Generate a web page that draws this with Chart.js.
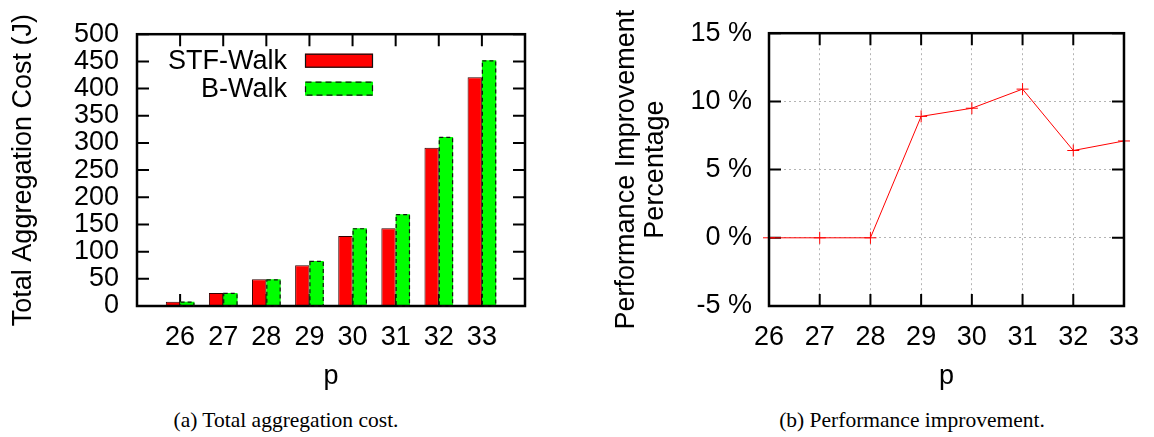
<!DOCTYPE html>
<html>
<head>
<meta charset="utf-8">
<script src="https://cdn.jsdelivr.net/npm/chart.js@4.4.0/dist/chart.umd.min.js"></script>
<style>
  html, body { margin: 0; padding: 0; background: #fff; }
  body { width: 1154px; height: 437px; position: relative; overflow: hidden; }
  #wrapA { position: absolute; left: 0; top: 0; width: 560px; height: 400px; }
  #wrapB { position: absolute; left: 580px; top: 0; width: 574px; height: 400px; }
  .caption { position: absolute; top: 410px; width: 400px; font-family: 'Liberation Serif', 'Times New Roman', serif;
    font-size: 21.5px; line-height: 20px; text-align: center; color: #000; white-space: nowrap; }
</style>
</head>
<body>
<div id="wrapA"><canvas id="costChart" width="560" height="400"></canvas></div>
<div id="wrapB"><canvas id="gainChart" width="574" height="400"></canvas></div>
<div class="caption" style="left:86px;">(a) Total aggregation cost.</div>
<div class="caption" style="left:712px;">(b) Performance improvement.</div>

<script>
// data
var pValues = ['26', '27', '28', '29', '30', '31', '32', '33'];
var stfWalk = [8, 24, 49, 75, 129, 143, 291, 421];
var bWalk = [8, 24, 49, 83, 143, 169, 311, 452];
var gainPct = [0, 0, 0, 8.9, 9.5, 10.9, 6.4, 7.1];

var FONT = "'Liberation Sans', Arial, sans-serif";
Chart.defaults.font.family = FONT;
Chart.defaults.color = '#000';

// inward gnuplot-style ticks (behind marks) and the box (on top)
var frameTicks = {
  id: 'frameTicks',
  beforeDatasetsDraw: function (chart) {
    var ctx = chart.ctx, a = chart.chartArea, xs = chart.scales.x, ys = chart.scales.y, len = 12;
    ctx.save();
    ctx.strokeStyle = '#000';
    ctx.lineWidth = 2;
    ctx.beginPath();
    xs.ticks.forEach(function (t, i) {
      if (t.label === '') return;
      var px = xs.getPixelForTick(i);
      ctx.moveTo(px, a.bottom); ctx.lineTo(px, a.bottom - len);
      ctx.moveTo(px, a.top); ctx.lineTo(px, a.top + len);
    });
    ys.ticks.forEach(function (t, i) {
      var py = ys.getPixelForTick(i);
      ctx.moveTo(a.left, py); ctx.lineTo(a.left + len, py);
      ctx.moveTo(a.right, py); ctx.lineTo(a.right - len, py);
    });
    ctx.stroke();
    ctx.restore();
  },
  afterDatasetsDraw: function (chart) {
    var ctx = chart.ctx, a = chart.chartArea;
    ctx.save();
    ctx.strokeStyle = '#000';
    ctx.lineWidth = 2.5;
    ctx.strokeRect(a.left, a.top, a.right - a.left, a.bottom - a.top);
    ctx.restore();
  }
};

// dashed outline on the B-Walk bars
var dashedBars = {
  id: 'dashedBars',
  afterDatasetsDraw: function (chart) {
    var ctx = chart.ctx, meta = chart.getDatasetMeta(1), vals = chart.data.datasets[1].data;
    ctx.save();
    ctx.strokeStyle = '#111';
    ctx.lineWidth = 1.2;
    ctx.setLineDash([4, 3]);
    meta.data.forEach(function (bar, i) {
      if (vals[i] == null) return;
      var p = bar.getProps(['x', 'y', 'base', 'width'], true);
      ctx.strokeRect(p.x - p.width / 2 + 0.5, p.y + 0.5, p.width - 1, p.base - p.y - 0.5);
    });
    ctx.restore();
  }
};

// legend sits inside the plot, top left
var insideLegend = {
  id: 'insideLegend',
  afterDraw: function (chart) {
    var ctx = chart.ctx, a = chart.chartArea;
    ctx.save();
    chart.data.datasets.forEach(function (ds, i) {
      var cy = a.top + 26.5 + i * 28;
      ctx.font = '27px ' + FONT;
      ctx.textAlign = 'right';
      ctx.textBaseline = 'middle';
      ctx.fillStyle = '#000';
      ctx.fillText(ds.label, a.left + 150, cy + 1);
      var sx = a.left + 168, sw = 68, sh = 14;
      ctx.fillStyle = ds.backgroundColor;
      ctx.fillRect(sx, cy - sh / 2, sw, sh);
      ctx.strokeStyle = '#111';
      ctx.lineWidth = 1.2;
      ctx.setLineDash(i === 1 ? [6, 4] : []);
      ctx.strokeRect(sx + 0.5, cy - sh / 2 + 0.5, sw - 1, sh - 1);
    });
    ctx.restore();
  }
};

// left chart: pad one empty slot on each side like gnuplot does
var costLabels = [''].concat(pValues, ['']);
var costA = [null].concat(stfWalk, [null]);
var costB = [null].concat(bWalk, [null]);

new Chart(document.getElementById('costChart'), {
  type: 'bar',
  data: {
    labels: costLabels,
    datasets: [
      {
        label: 'STF-Walk',
        backgroundColor: '#ff0000',
        borderColor: '#330000',
        borderWidth: 1,
        data: costA
      },
      {
        label: 'B-Walk',
        backgroundColor: '#00ff00',
        borderWidth: 0,
        data: costB
      }
    ]
  },
  options: {
    responsive: false,
    animation: false,
    categoryPercentage: 0.664,
    barPercentage: 1,
    layout: { padding: { top: 26, right: 35, left: 0, bottom: 0 } },
    plugins: { legend: { display: false }, tooltip: { enabled: false } },
    scales: {
      x: {
        offset: false,
        grid: { display: false, drawTicks: false },
        border: { display: false },
        ticks: { font: { size: 27 }, padding: 15, maxRotation: 0, autoSkip: false },
        title: { display: true, text: 'p', font: { size: 27 }, padding: { top: 0, bottom: 7 } },
        afterFit: function (s) { s.height = 94; }
      },
      y: {
        min: 0,
        max: 500,
        grid: { display: false, drawTicks: false },
        border: { display: false },
        ticks: { stepSize: 50, font: { size: 27 }, padding: 18, autoSkip: false },
        title: { display: true, text: 'Total Aggregation Cost (J)', font: { size: 27 }, padding: { top: 7, bottom: 0 } },
        afterFit: function (s) { s.width = 137; }
      }
    }
  },
  plugins: [frameTicks, dashedBars, insideLegend]
});

// right chart
new Chart(document.getElementById('gainChart'), {
  type: 'line',
  data: {
    labels: pValues,
    datasets: [
      {
        label: 'improvement',
        data: gainPct,
        borderColor: '#ff0000',
        backgroundColor: '#ff0000',
        borderWidth: 1,
        tension: 0,
        pointStyle: 'cross',
        pointRadius: 6,
        pointBorderWidth: 1,
        clip: false
      }
    ]
  },
  options: {
    responsive: false,
    animation: false,
    layout: { padding: { top: 26, right: 24, left: 0, bottom: 0 } },
    plugins: { legend: { display: false }, tooltip: { enabled: false } },
    scales: {
      x: {
        offset: false,
        grid: { color: '#b4b4b4', lineWidth: 1, drawTicks: false },
        border: { display: false, dash: [2, 3] },
        ticks: { font: { size: 27 }, padding: 15, maxRotation: 0, autoSkip: false },
        title: { display: true, text: 'p', font: { size: 27 }, padding: { top: 0, bottom: 7 } },
        afterFit: function (s) { s.height = 94; }
      },
      y: {
        min: -5,
        max: 15,
        grid: { color: '#b4b4b4', lineWidth: 1, drawTicks: false },
        border: { display: false, dash: [2, 3] },
        ticks: {
          stepSize: 5,
          font: { size: 27 },
          padding: 17,
          autoSkip: false,
          callback: function (v) { return v + ' %'; }
        },
        title: {
          display: true,
          text: ['Performance Improvement', 'Percentage'],
          font: { size: 27, lineHeight: 1.08 },
          padding: { top: 32, bottom: 0 }
        },
        afterFit: function (s) { s.width = 189; }
      }
    }
  },
  plugins: [frameTicks]
});
</script>
</body>
</html>
